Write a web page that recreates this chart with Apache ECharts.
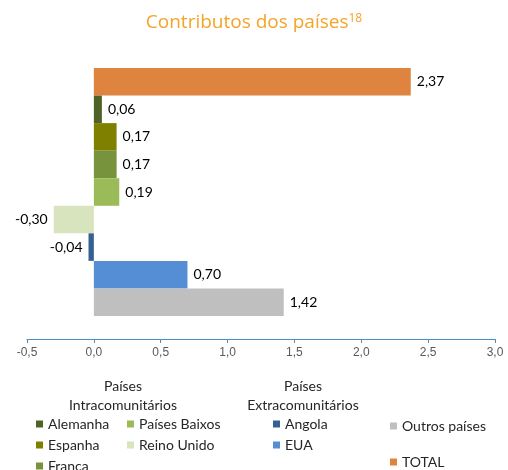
<!DOCTYPE html>
<html>
<head>
<meta charset="utf-8">
<script src="https://cdn.jsdelivr.net/npm/echarts@6/dist/echarts.min.js"></script>
<style>
  html, body { margin: 0; padding: 0; background: #fff; }
  #chart { width: 508px; height: 470px; }
</style>
</head>
<body>
<div id="chart"></div>
<script>
// dados do gráfico
const categories = ['TOTAL', 'Alemanha', 'Espanha', 'França', 'Países Baixos', 'Reino Unido', 'Angola', 'EUA', 'Outros países']
const values = [2.37, 0.06, 0.17, 0.17, 0.19, -0.30, -0.04, 0.70, 1.42]
const colors = ['#DE843F', '#4F6228', '#808000', '#77933C', '#9BBB59', '#D7E4BD', '#376092', '#558ED5', '#BFBFBF']
const xTicks = [-0.5, 3.0, 0.5] // min, max, intervalo

const fmt = (v, d) => v.toFixed(d).replace('.', ',')
const labelFont = 'Lato, "Open Sans", sans-serif'

var myChart = echarts.init(document.getElementById('chart'))

// uma série por país, empilhadas para ficarem na mesma linha
const series = categories.map(function (name, i) {
    const data = categories.map((c, j) => (j === i ? values[i] : '-'))
    return {
        name: name,
        type: 'bar',
        stack: 'all',
        barWidth: '100%',
        data: data,
        itemStyle: { color: colors[i] },
        label: {
            show: true,
            position: values[i] < 0 ? 'left' : 'right',
            distance: 6,
            color: '#000',
            fontFamily: labelFont,
            fontSize: 14,
            formatter: p => fmt(p.value, 2)
        }
    }
})

// posições da legenda (uma legenda por item)
const legendPos = {
    'Alemanha': [31, 411], 'Espanha': [31, 432], 'França': [31, 453],
    'Países Baixos': [122, 411], 'Reino Unido': [122, 432],
    'Angola': [268, 411], 'EUA': [268, 432],
    'Outros países': [385, 413], 'TOTAL': [385, 449]
}
const legends = Object.keys(legendPos).map(name => ({
    data: [name],
    left: legendPos[name][0],
    top: legendPos[name][1],
    icon: 'rect',
    itemWidth: 7,
    itemHeight: 7,
    selectedMode: false,
    textStyle: { color: '#262626', fontFamily: labelFont, fontSize: 14, lineHeight: 16 }
}))

const headerStyle = { align: 'center', fill: '#262626', font: '14px Lato, "Open Sans", sans-serif', lineHeight: 19 }

const option = {
    animation: false,
    title: {
        text: '{a|Contributos dos países}{b|18}',
        left: 'center',
        top: 8,
        textStyle: {
            rich: {
                a: { color: '#F5A427', fontSize: 19, fontWeight: 'normal', fontFamily: '"Open Sans", sans-serif' },
                b: { color: '#F5A427', fontSize: 12, fontWeight: 'normal', fontFamily: '"Open Sans", sans-serif', verticalAlign: 'top', padding: [0, 0, 7, 0] }
            }
        }
    },
    grid: { left: 27, right: 13, top: 68, bottom: 154, containLabel: false },
    xAxis: {
        type: 'value',
        min: xTicks[0],
        max: xTicks[1],
        interval: xTicks[2],
        offset: 23,
        axisLine: { show: true, onZero: false, lineStyle: { color: '#4A8CC4', width: 1 } },
        axisTick: { show: true, length: 4, lineStyle: { color: '#4A8CC4' } },
        splitLine: { show: false },
        axisLabel: {
            margin: 8,
            color: '#595959',
            fontFamily: '"Liberation Sans", Arial, sans-serif',
            fontSize: 12,
            formatter: v => fmt(v, 1)
        }
    },
    yAxis: {
        type: 'category',
        inverse: true,
        data: categories,
        show: false
    },
    legend: legends,
    graphic: [
        { type: 'text', x: 123, y: 377, style: Object.assign({ text: 'Países\nIntracomunitários' }, headerStyle) },
        { type: 'text', x: 303, y: 377, style: Object.assign({ text: 'Países\nExtracomunitários' }, headerStyle) }
    ],
    series: series
}

myChart.setOption(option)
</script>
</body>
</html>
